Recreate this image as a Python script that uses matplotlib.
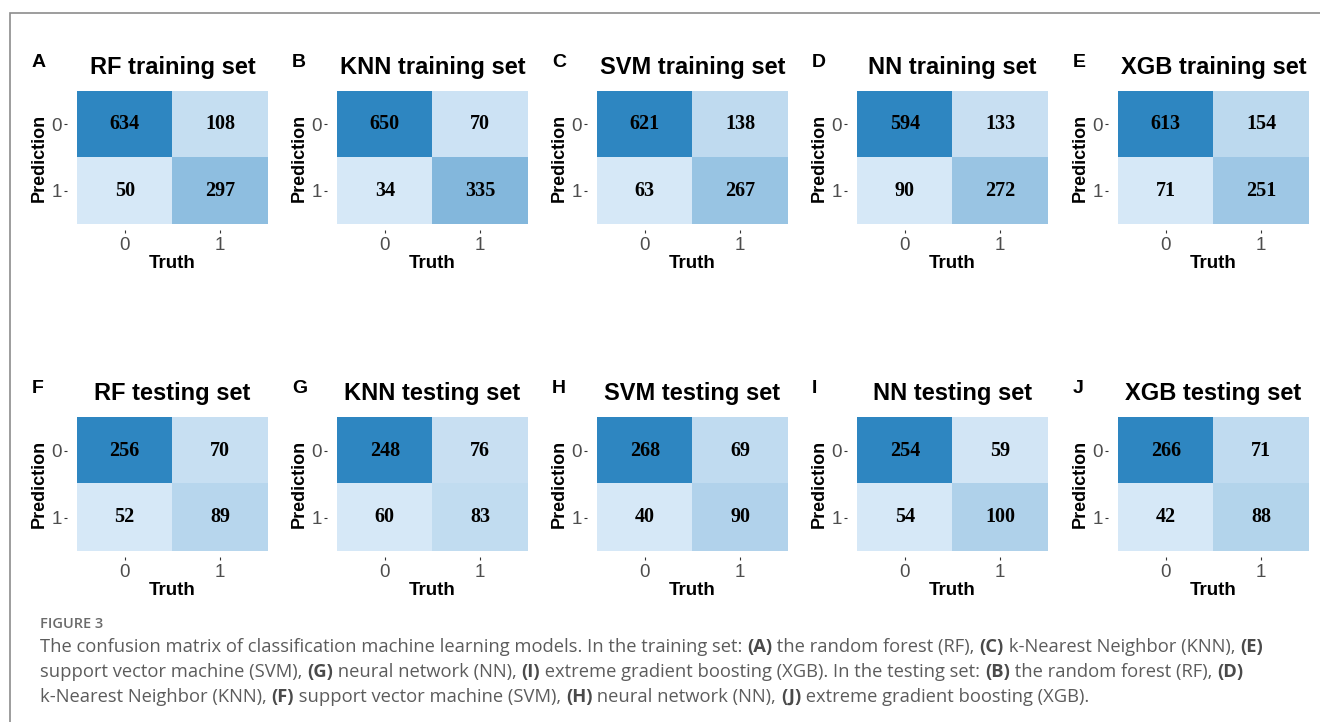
import matplotlib.pyplot as plt
from matplotlib.colors import LinearSegmentedColormap, Normalize
from matplotlib.patches import Rectangle

# DATA
models = ["RF", "KNN", "SVM", "NN", "XGB"]
train_letters = ["A", "B", "C", "D", "E"]
test_letters = ["F", "G", "H", "I", "J"]
classes = ["0", "1"]

# rows = Prediction (0, 1), cols = Truth (0, 1)
train_cm = [
    [[634, 108], [50, 297]],
    [[650, 70], [34, 335]],
    [[621, 138], [63, 267]],
    [[594, 133], [90, 272]],
    [[613, 154], [71, 251]],
]
test_cm = [
    [[256, 70], [52, 89]],
    [[248, 76], [60, 83]],
    [[268, 69], [40, 90]],
    [[254, 59], [54, 100]],
    [[266, 71], [42, 88]],
]

caption_head = "FIGURE 3"
caption_lines = [
    [("The confusion matrix of classification machine learning models. In the training set: ", False),
     ("(A)", True), (" the random forest (RF), ", False), ("(C)", True),
     (" k-Nearest Neighbor (KNN), ", False), ("(E)", True)],
    [("support vector machine (SVM), ", False), ("(G)", True), (" neural network (NN), ", False),
     ("(I)", True), (" extreme gradient boosting (XGB). In the testing set: ", False),
     ("(B)", True), (" the random forest (RF), ", False), ("(D)", True)],
    [("k-Nearest Neighbor (KNN), ", False), ("(F)", True), (" support vector machine (SVM), ", False),
     ("(H)", True), (" neural network (NN), ", False), ("(J)", True),
     (" extreme gradient boosting (XGB).", False)],
]

# FIGURE
W, H = 1320, 722
fig = plt.figure(figsize=(W / 100, H / 100), dpi=100)
fig.patch.set_facecolor("white")

cmap = LinearSegmentedColormap.from_list("blu", ["#D6E8F7", "#2E86C1"])
sans = "Liberation Sans"
serif = "Liberation Serif"

# outer frame (top and left edges visible)
fig.add_artist(Rectangle((10 / W, -0.05), 1.2, 1 - 13 / H + 0.05, transform=fig.transFigure,
                         fill=False, edgecolor="#8c8c8c", linewidth=1.2))

lefts = [77, 337, 597, 857, 1118]
panel_w = 191
rows = [(91, 133, "training", train_cm, train_letters),
        (417, 134, "testing", test_cm, test_letters)]

for top, ph, setname, cms, letters in rows:
    for i, model in enumerate(models):
        x0 = lefts[i]
        ax = fig.add_axes([x0 / W, 1 - (top + ph) / H, panel_w / W, ph / H])
        cm = cms[i]
        flat = [v for r in cm for v in r]
        norm = Normalize(vmin=min(flat), vmax=max(flat))
        ax.imshow(cm, cmap=cmap, norm=norm, aspect="auto", interpolation="nearest")
        for r in range(2):
            for c in range(2):
                ax.text(c, r, str(cm[r][c]), ha="center", va="center", fontsize=14.5,
                        fontweight="bold", family=serif, color="black")
        for s in ax.spines.values():
            s.set_visible(False)
        ax.spines["left"].set_position(("outward", 7))
        ax.spines["bottom"].set_position(("outward", 4))
        ax.set_xticks([0, 1])
        ax.set_xticklabels(classes)
        ax.set_yticks([0, 1])
        ax.set_yticklabels(classes)
        ax.tick_params(axis="both", length=2.5, width=0.8, color="#333333",
                       labelcolor="#4d4d4d", labelsize=13.5)
        ax.tick_params(axis="y", pad=1.5)
        ax.tick_params(axis="x", pad=3)
        for lab in ax.get_xticklabels() + ax.get_yticklabels():
            lab.set_family(sans)

        # title, letter, axis labels
        cx = x0 + panel_w / 2
        fig.text(cx / W, 1 - (top - 17) / H, f"{model} {setname} set", ha="center",
                 va="baseline", fontsize=17, fontweight="bold", family=sans)
        fig.text((x0 - 45) / W, 1 - (top - 24) / H, letters[i], ha="left", va="baseline",
                 fontsize=14, fontweight="bold", family=sans)
        fig.text((x0 - 38) / W, 1 - (top + ph / 2) / H, "Prediction", rotation=90,
                 ha="center", va="center", fontsize=13, fontweight="bold", family=sans)
        fig.text(cx / W, 1 - (top + ph + 44) / H, "Truth", ha="center", va="baseline",
                 fontsize=13.5, fontweight="bold", family=sans)

# CAPTION
cap_font = "Open Sans"
fig.text(40 / W, 1 - 628 / H, caption_head, ha="left", va="baseline", fontsize=10.5,
         fontweight="semibold", family=cap_font, color="#6b6b6b")

renderer = fig.canvas.get_renderer()
baselines = [652, 677, 702]
for line, yb in zip(caption_lines, baselines):
    x = 40
    for txt, bold in line:
        t = fig.text(x / W, 1 - yb / H, txt, ha="left", va="baseline", fontsize=13.25,
                     family=cap_font, fontweight="bold" if bold else "normal",
                     color="#4a4a4a" if bold else "#5c5c5c")
        x = t.get_window_extent(renderer).x1

fig.savefig("out.png", dpi=100)
